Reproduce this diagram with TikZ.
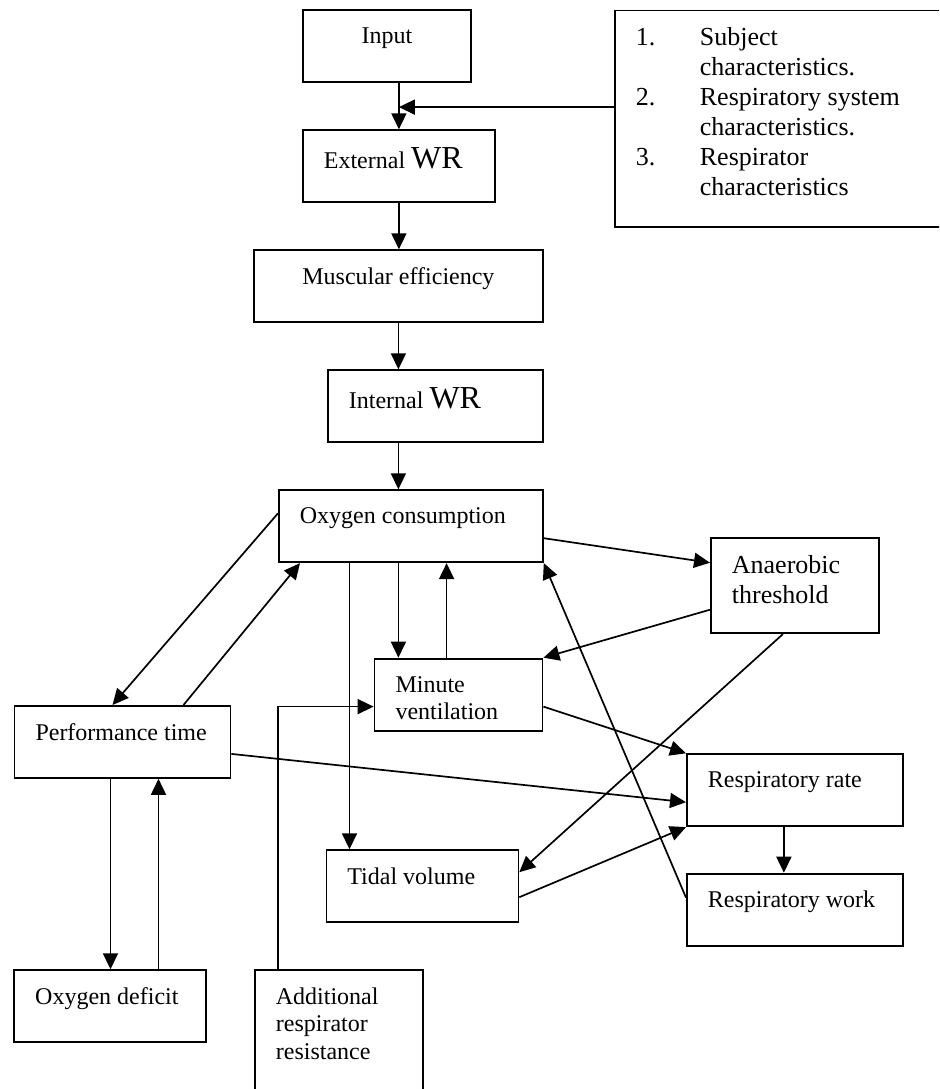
\documentclass[tikz,border=0pt]{standalone}
\usepackage{fontspec}
\setmainfont{Liberation Serif}
\usetikzlibrary{positioning,calc,arrows.meta}
% text set at the top of a box of given outer size
\newcommand{\cell}[3]{\parbox[t][\dimexpr#2-17.5pt\relax][t]{\dimexpr#1-21pt\relax}{\raggedright#3}}
\newcommand{\bigWR}{{\fontsize{16pt}{18pt}\selectfont WR}}

\begin{document}
\begin{tikzpicture}[x=0.5pt,y=-0.5pt,font=\fontsize{12pt}{13.8pt}\selectfont]
  \tikzset{
    box/.style={draw,line width=0.9pt,anchor=north west,
                inner xsep=10.5pt,inner ysep=8.75pt},
    big/.style={box,font=\fontsize{13pt}{15pt}\selectfont},
    arr/.style={-{Triangle[length=8pt,width=7.5pt]},line width=0.85pt},
  }
  \useasboundingbox (0,0) rectangle (939,1089);
  \clip (0,0) rectangle (939,1089);
  % ---- input chain ----
  \node[box] (inp) at (302,9.3) {\cell{84pt}{36pt}{\centering Input}};
  \node[big] (lst) at (614,9.5) {\cell{170pt}{108.25pt}{%
      \makebox[32pt][l]{1.}Subject\\
      \hspace*{32pt}characteristics.\\
      \makebox[32pt][l]{2.}Respiratory system\\
      \hspace*{32pt}characteristics.\\
      \makebox[32pt][l]{3.}Respirator\\
      \hspace*{32pt}characteristics}};
  \node[box] (ext) at (302,129.3) {\cell{96pt}{36pt}{External \bigWR}};
  \node[box] (mus) at (253,249.3) {\cell{144.5pt}{36pt}{\centering Muscular efficiency}};
  \node[box] (int) at (327,369.3) {\cell{107.5pt}{36pt}{Internal \bigWR}};
  % ---- respiration ----
  \node[box] (oxc) at (278,489.3) {\cell{132pt}{36pt}{Oxygen consumption}};
  \node[big] (anth) at (710,537.3) {\cell{84pt}{47.5pt}{Anaerobic\\threshold}};
  \node[box] (minv) at (373.6,657.7) {\cell{84pt}{36pt}{Minute\\ventilation}};
  \node[box] (perf) at (13.6,705) {\cell{108pt}{36pt}{Performance time}};
  \node[box] (rrate) at (686,753.3) {\cell{108pt}{36pt}{Respiratory rate}};
  \node[box] (tidv) at (325.5,849.3) {\cell{96pt}{36pt}{Tidal volume}};
  \node[box] (rwork) at (686,872.7) {\cell{108pt}{36pt}{Respiratory work}};
  \node[box] (odef) at (13.3,969.3) {\cell{96pt}{36pt}{Oxygen deficit}};
  \node[box] (addr) at (254,969.3) {\cell{84pt}{65pt}{Additional\\respirator\\resistance}};
  % ---- connectors ----
  \path (inp.south -| ext.north) ++(0,24) coordinate (join);
  \draw[arr] (inp.south -| ext.north) -- (ext.north);
  \draw[arr] (lst.west |- join) -- (join);
  \draw[arr] (ext.south) -- (ext.south |- mus.north);
  \draw[arr] (mus.south) -- (mus.south |- int.north);
  \draw[arr] (int.south -| mus.south) -- (oxc.north -| mus.south);
  \draw[arr] ([yshift=-12pt]oxc.north west) -- ([xshift=-5pt]perf.north);
  \draw[arr] ([xshift=30.5pt]perf.north) -- ([xshift=11pt]oxc.south west);
  \draw[arr] (oxc.south -| mus.south) -- (minv.north -| mus.south);
  \draw[arr] ([xshift=36.5pt]minv.north west) -- ([xshift=36.5pt]minv.north west |- oxc.south);
  \draw[arr] ([xshift=12pt]tidv.north west |- oxc.south) -- ([xshift=12pt]tidv.north west);
  \draw[arr] ([yshift=-6pt]oxc.east) -- ([yshift=11.5pt]anth.west);
  \draw[arr] ([yshift=-12pt]anth.west) -- (minv.north east);
  \draw[arr] ([yshift=-6pt]minv.east) -- (rrate.north west);
  \draw[arr] ([xshift=-6pt]anth.south) -- ([yshift=7pt]tidv.east);
  \draw[arr] ([yshift=-6pt]perf.east) -- ([yshift=-6pt]rrate.west);
  \draw[arr] ([yshift=-5.5pt]tidv.east) -- (rrate.south west);
  \draw[arr] ([xshift=-5.5pt]rrate.south) -- ([xshift=-5.5pt]rrate.south |- rwork.north);
  \draw[arr] ([yshift=6pt]rwork.west) -- (oxc.south east);
  \draw[arr] ([xshift=-6pt]perf.south) -- ([xshift=-6pt]perf.south |- odef.north);
  \draw[arr] ([xshift=18pt]perf.south |- odef.north) -- ([xshift=18pt]perf.south);
  \draw[arr] ([xshift=12pt]addr.north west) |- ([yshift=-6pt]minv.west);
\end{tikzpicture}
\end{document}
